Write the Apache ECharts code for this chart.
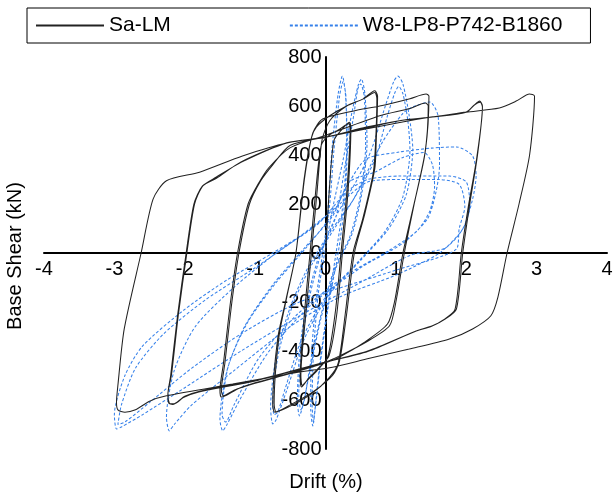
<!DOCTYPE html>
<html>
<head>
<meta charset="utf-8">
<script src="https://cdn.jsdelivr.net/npm/echarts@6/dist/echarts.min.js"></script>
<style>html,body{margin:0;padding:0;background:#fff}#c{width:615px;height:498px}</style>
</head>
<body>
<div id="c"></div>
<script>
// ---------- Data (drift %, base shear kN) ----------
var xTicks = [-4, -3, -2, -1, 0, 1, 2, 3, 4];
var yTicks = [-800, -600, -400, -200, 0, 200, 400, 600, 800];
var seriesNames = ['Sa-LM', 'W8-LP8-P742-B1860'];

// Sa-LM cycles
var saCycleA1 = [[0,0],[0.06,280],[0.12,460],[0.22,500],[0.34,534],[0.36,505],[0.32,250],[0.24,0],[0.16,-250],[0.05,-420],[-0.1,-470],[-0.25,-515],[-0.34,-547],[-0.36,-510],[-0.3,-250],[-0.22,0],[-0.14,250],[-0.06,440],[0.05,480]];
var saCycleA2 = [[0.2,505],[0.33,528],[0.35,500],[0.3,240],[0.22,0],[0.14,-240],[0.03,-425],[-0.12,-480],[-0.26,-520],[-0.33,-540],[-0.35,-500],[-0.28,-250],[-0.2,0],[-0.12,250],[-0.05,460]];
var saCycleB1 = [[0.06,540],[0.3,600],[0.53,628],[0.7,662],[0.74,640],[0.72,450],[0.7,343],[0.55,150],[0.41,0],[0.3,-250],[0.2,-440],[0.1,-500],[-0.18,-567],[-0.5,-620],[-0.72,-650],[-0.75,-620],[-0.68,-350],[-0.56,-188],[-0.42,0],[-0.3,300],[-0.2,470],[-0.13,514]];
var saCycleB2 = [[0.06,560],[0.3,600],[0.53,628],[0.7,655],[0.73,630],[0.71,440],[0.68,330],[0.53,140],[0.39,0],[0.28,-250],[0.18,-450],[0.05,-510],[-0.2,-575],[-0.5,-625],[-0.7,-648],[-0.73,-615],[-0.66,-340],[-0.55,-180],[-0.42,0],[-0.3,310],[-0.18,490],[-0.04,547]];
var saCycleC1 = [[0.4,580],[0.77,600],[1.2,630],[1.43,649],[1.47,640],[1.42,420],[1.26,200],[1.12,0],[1.0,-200],[0.91,-297],[0.58,-363],[0.2,-420],[0,-445],[-0.5,-490],[-1.0,-530],[-1.25,-555],[-1.4,-580],[-1.48,-588],[-1.5,-560],[-1.45,-450],[-1.35,-200],[-1.25,0],[-1.1,200],[-0.94,290],[-0.8,350],[-0.5,430]];
var saCycleC2 = [[0,480],[0.77,560],[1.2,590],[1.42,612],[1.46,600],[1.41,400],[1.25,190],[1.1,0],[0.98,-200],[0.88,-290],[0.55,-365],[0.2,-425],[0,-448],[-0.5,-492],[-1.0,-532],[-1.3,-560],[-1.45,-583],[-1.48,-560],[-1.43,-450],[-1.33,-200],[-1.23,0],[-1.08,200],[-0.92,295],[-0.75,360],[-0.5,440]];
var saCycleD1 = [[0,473],[1,530],[1.5,555],[2.0,575],[2.1,600],[2.19,620],[2.23,600],[2.16,400],[2.05,200],[1.95,0],[1.86,-229],[1.7,-270],[1.52,-297],[1.29,-318],[0.6,-400],[0,-445],[-1.0,-520],[-1.8,-565],[-2.0,-585],[-2.15,-615],[-2.22,-615],[-2.24,-580],[-2.2,-500],[-2.1,-250],[-1.98,0],[-1.87,200],[-1.75,273],[-1.55,310],[-1.2,370],[-0.55,449]];
var saCycleD2 = [[0,473],[1.05,540],[1.52,555],[2.0,575],[2.12,605],[2.2,615],[2.23,595],[2.15,390],[2.03,190],[1.93,0],[1.84,-230],[1.68,-272],[1.5,-300],[1.27,-320],[0.6,-402],[0,-446],[-1.0,-522],[-1.8,-567],[-2.02,-590],[-2.17,-618],[-2.22,-612],[-2.24,-578],[-2.19,-500],[-2.09,-250],[-1.97,0],[-1.86,200],[-1.74,275],[-1.55,305],[-1.2,372],[-0.55,450]];
var saCycleE = [[0,473],[0.58,514],[1.05,540],[1.52,555],[2.0,575],[2.47,592],[2.71,620],[2.9,649],[2.97,640],[2.9,400],[2.75,200],[2.58,0],[2.45,-180],[2.35,-256],[2.09,-310],[1.76,-351],[1.19,-392],[0.58,-433],[0.1,-466],[-0.37,-486],[-1.32,-535],[-2.26,-583],[-2.5,-605],[-2.7,-640],[-2.85,-650],[-2.95,-640],[-2.97,-610],[-2.95,-540],[-2.86,-310],[-2.62,0],[-2.45,220],[-2.26,295],[-1.79,330],[-1.18,396],[-0.55,449],[0,470]];

// W8-LP8-P742-B1860 cycles
var wCycleA1 = [[0,0],[0.04,200],[0.1,450],[0.18,650],[0.24,722],[0.28,660],[0.31,450],[0.27,200],[0.18,0],[0.05,-200],[-0.06,-420],[-0.14,-620],[-0.18,-706],[-0.21,-640],[-0.2,-420],[-0.13,-180],[-0.04,0],[0.06,200]];
var wCycleA2 = [[0.12,420],[0.2,640],[0.25,700],[0.29,640],[0.3,420],[0.24,180],[0.15,0],[0.03,-220],[-0.08,-450],[-0.15,-640],[-0.17,-690],[-0.19,-620],[-0.17,-400],[-0.1,-160],[0,20],[0.1,180]];
var wCycleB1 = [[0.25,380],[0.38,580],[0.47,690],[0.51,710],[0.56,650],[0.59,450],[0.52,250],[0.38,80],[0.15,-60],[-0.05,-250],[-0.2,-450],[-0.32,-620],[-0.37,-665],[-0.4,-600],[-0.36,-380],[-0.25,-180],[-0.08,0],[0.15,150]];
var wCycleB2 = [[0.28,360],[0.4,560],[0.46,670],[0.5,690],[0.55,640],[0.57,440],[0.5,240],[0.35,70],[0.12,-70],[-0.07,-260],[-0.22,-460],[-0.3,-600],[-0.35,-640],[-0.38,-580],[-0.33,-360],[-0.22,-170],[-0.05,10],[0.15,150]];
var wCycleC1 = [[0.45,300],[0.65,420],[0.85,600],[0.97,700],[1.03,722],[1.1,690],[1.19,559],[1.24,424],[1.15,240],[0.9,100],[0.5,-30],[0.05,-170],[-0.3,-350],[-0.55,-560],[-0.7,-680],[-0.75,-698],[-0.78,-630],[-0.7,-420],[-0.5,-220],[-0.25,-60],[0.1,100],[0.4,220]];
var wCycleC2 = [[0.7,380],[0.88,560],[0.98,650],[1.04,680],[1.1,650],[1.17,540],[1.2,420],[1.1,230],[0.85,90],[0.45,-40],[0,-180],[-0.35,-360],[-0.58,-560],[-0.68,-650],[-0.73,-660],[-0.75,-600],[-0.66,-400],[-0.45,-200],[-0.2,-50],[0.15,110],[0.4,220]];
var wCycleD1 = [[0.81,453],[1.1,570],[1.24,596],[1.48,616],[1.6,559],[1.62,355],[1.57,249],[1.45,140],[1.1,40],[0.5,-60],[-0.2,-210],[-0.8,-400],[-1.2,-590],[-1.4,-700],[-1.46,-726],[-1.5,-680],[-1.4,-480],[-1.15,-300],[-0.75,-130],[-0.3,20],[0.1,150],[0.34,290]];
var wCycleD2 = [[0.7,330],[1.1,390],[1.4,410],[1.52,360],[1.55,270],[1.48,170],[1.3,90],[0.9,10],[0.3,-90],[-0.4,-250],[-0.95,-430],[-1.3,-620],[-1.42,-690],[-1.47,-660],[-1.38,-460],[-1.1,-280],[-0.7,-120],[-0.25,30],[0.1,160],[0.34,290]];
var wCycleE1 = [[0.58,384],[1.05,412],[1.5,428],[1.86,433],[2.09,396],[2.14,314],[2.09,220],[1.95,98],[1.62,0],[1.0,-90],[0.2,-180],[-0.5,-300],[-1.3,-480],[-1.9,-620],[-2.15,-700],[-2.22,-726],[-2.26,-670],[-2.15,-480],[-1.85,-300],[-1.3,-140],[-0.7,0],[-0.1,120],[0.3,250]];
var wCycleE2 = [[0.6,300],[1.05,314],[1.76,314],[2.0,290],[2.05,192],[1.95,98],[1.7,20],[1.2,-10],[0.5,-120],[-0.37,-257],[-1.2,-400],[-2.0,-550],[-2.6,-660],[-2.9,-710],[-2.97,-718],[-3.0,-660],[-2.85,-500],[-2.6,-380],[-2.0,-230],[-1.4,-110],[-0.75,0],[-0.2,100],[0.2,200]];
var wCycleF = [[0.6,290],[1.05,300],[1.6,300],[1.9,280],[1.98,190],[1.9,100],[1.86,16],[1.0,-70],[-0.37,-200],[-1.2,-330],[-1.9,-470],[-2.5,-610],[-2.85,-690],[-2.95,-700],[-2.9,-620],[-2.7,-470],[-2.3,-330],[-1.7,-190],[-1.0,-60],[-0.4,60],[0,150]];

// ---------- Chart ----------
var saData = [].concat(saCycleA1, saCycleA2, saCycleB1, saCycleB2, saCycleC1, saCycleC2, saCycleD1, saCycleD2, saCycleE);
var wData = [].concat(wCycleA1, wCycleA2, wCycleB1, wCycleB2, wCycleC1, wCycleC2, wCycleD1, wCycleD2, wCycleE1, wCycleE2, wCycleF);

var font = 'Liberation Sans';
var G = {left: 44, right: 8, top: 57, bottom: 49, W: 615, H: 498};
var gridW = G.W - G.left - G.right, gridH = G.H - G.top - G.bottom;
var chart = echarts.init(document.getElementById('c'), null, {renderer: 'canvas'});
chart.setOption({
  animation: false,
  backgroundColor: '#fff',
  grid: {left: G.left, right: G.right, top: G.top, bottom: G.bottom, containLabel: false, outerBoundsMode: 'none'},
  legend: {
    left: 27, top: 8,
    padding: [7, 28, 7, 8],
    itemGap: 118, itemWidth: 68, itemHeight: 14,
    borderColor: '#000', borderWidth: 1,
    itemStyle: {color: 'rgba(0,0,0,0)', borderColor: 'rgba(0,0,0,0)', borderWidth: 0},
    data: seriesNames,
    textStyle: {fontFamily: font, fontSize: 21, color: '#000'}
  },
  xAxis: {
    type: 'value', min: xTicks[0], max: xTicks[xTicks.length - 1], interval: 1,
    offset: -gridH / 2,
    axisLine: {onZero: false, lineStyle: {color: '#000', width: 2}},
    axisTick: {show: false},
    splitLine: {show: false},
    axisLabel: {fontFamily: font, fontSize: 20, color: '#000', margin: 6}
  },
  yAxis: {
    type: 'value', min: yTicks[0], max: yTicks[yTicks.length - 1], interval: 200,
    offset: -gridW / 2,
    axisLine: {onZero: false, lineStyle: {color: '#000', width: 2}},
    axisTick: {show: false},
    splitLine: {show: false},
    axisLabel: {fontFamily: font, fontSize: 20, color: '#000', margin: 4}
  },
  graphic: [
    {type: 'text', x: 326, y: 482, style: {text: 'Drift (%)', fontFamily: font, fontSize: 20, fill: '#000', align: 'center', verticalAlign: 'middle'}},
    {type: 'text', x: 15, y: 256, rotation: Math.PI / 2, style: {text: 'Base Shear (kN)', fontFamily: font, fontSize: 20, fill: '#000', align: 'center', verticalAlign: 'middle'}}
  ],
  series: [
    {name: seriesNames[0], type: 'line', data: saData, symbol: 'none', smooth: 0.25,
     lineStyle: {color: '#222', width: 1.05}, itemStyle: {color: '#222'}, z: 3},
    {name: seriesNames[1], type: 'line', data: wData, symbol: 'none', smooth: 0.25,
     lineStyle: {color: '#3580ea', width: 1.05, type: [3, 2]}, itemStyle: {color: '#3580ea'}, z: 2}
  ]
});
</script>
</body>
</html>
